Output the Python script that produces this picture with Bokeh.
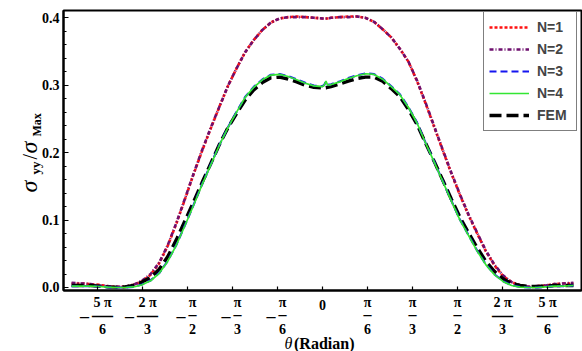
import math
from bokeh.plotting import figure
from bokeh.models import (FixedTicker, Label, Legend, LegendItem, Range1d, NumeralTickFormatter,
                          LinearAxis, BoxAnnotation)
from bokeh.embed import file_html
from bokeh.resources import INLINE

# ---------------- data ----------------
theta = [-2.92, -2.8, -2.7, -2.6, -2.5, -2.4, -2.3, -2.2, -2.1, -2.0,
         -1.9, -1.8, -1.7, -1.6, -1.5, -1.4, -1.3, -1.2, -1.1, -1.0,
         -0.9, -0.8, -0.7, -0.6, -0.5, -0.4, -0.3, -0.2, -0.1,
         0.0, 0.02, 0.04, 0.06,
         0.1, 0.2, 0.3, 0.4, 0.5, 0.6, 0.7, 0.8, 0.9, 1.0,
         1.1, 1.2, 1.3, 1.4, 1.5, 1.6, 1.7, 1.8, 1.9, 2.0,
         2.1, 2.2, 2.3, 2.4, 2.5, 2.6, 2.7, 2.8, 2.92]

n1 = [0.006, 0.006, 0.005, 0.004, 0.002, 0.001, 0.001, 0.004, 0.009, 0.019,
      0.036, 0.062, 0.095, 0.131, 0.168, 0.203, 0.236, 0.268, 0.299, 0.325,
      0.349, 0.367, 0.382, 0.393, 0.399, 0.401, 0.402, 0.401, 0.400,
      0.399, 0.399, 0.399, 0.399,
      0.400, 0.401, 0.402, 0.402, 0.400, 0.394, 0.383, 0.371, 0.354, 0.335,
      0.306, 0.273, 0.238, 0.203, 0.169, 0.137, 0.107, 0.080, 0.054, 0.033,
      0.017, 0.008, 0.003, 0.001, 0.002, 0.003, 0.005, 0.006, 0.006]

n2 = [0.007, 0.006, 0.005, 0.003, 0.002, 0.001, 0.001, 0.004, 0.010, 0.020,
      0.037, 0.063, 0.096, 0.132, 0.169, 0.204, 0.237, 0.268, 0.299, 0.325,
      0.349, 0.367, 0.382, 0.393, 0.399, 0.401, 0.401, 0.401, 0.400,
      0.399, 0.399, 0.399, 0.399,
      0.400, 0.401, 0.401, 0.402, 0.400, 0.394, 0.383, 0.371, 0.354, 0.335,
      0.307, 0.274, 0.239, 0.204, 0.170, 0.138, 0.108, 0.081, 0.055, 0.034,
      0.018, 0.008, 0.003, 0.001, 0.002, 0.003, 0.005, 0.006, 0.007]

n3 = [0.002, 0.002, 0.002, 0.0015, 0.0005, 0.0, 0.0, 0.001, 0.0045, 0.0105,
      0.0215, 0.0395, 0.0635, 0.0925, 0.1225, 0.1535, 0.1825, 0.2115, 0.2375, 0.2605,
      0.2825, 0.2975, 0.3085, 0.3155, 0.3165, 0.3135, 0.3085, 0.3035, 0.2995,
      0.2985, 0.3005, 0.3055, 0.3005,
      0.3015, 0.3055, 0.3105, 0.3145, 0.3175, 0.3165, 0.3095, 0.2985, 0.2865, 0.2675,
      0.2445, 0.2145, 0.1865, 0.1575, 0.1285, 0.1005, 0.0775, 0.0545, 0.0345, 0.0195,
      0.0095, 0.0035, 0.0008, 0.0, 0.0, 0.001, 0.002, 0.002, 0.003]

n4 = [0.002, 0.002, 0.002, 0.0015, 0.0005, 0.0, 0.0, 0.0008, 0.004, 0.010,
      0.021, 0.039, 0.063, 0.092, 0.122, 0.153, 0.182, 0.211, 0.237, 0.260,
      0.282, 0.297, 0.308, 0.315, 0.316, 0.313, 0.308, 0.303, 0.299,
      0.298, 0.300, 0.306, 0.300,
      0.301, 0.305, 0.310, 0.314, 0.317, 0.316, 0.309, 0.298, 0.286, 0.267,
      0.244, 0.214, 0.186, 0.157, 0.128, 0.100, 0.077, 0.054, 0.034, 0.019,
      0.009, 0.003, 0.0005, 0.0, 0.0, 0.001, 0.002, 0.002, 0.003]

fem = [0.003, 0.003, 0.003, 0.002, 0.001, 0.0005, 0.001, 0.003, 0.008, 0.015,
       0.027, 0.046, 0.071, 0.099, 0.127, 0.156, 0.184, 0.212, 0.237, 0.258,
       0.278, 0.293, 0.304, 0.311, 0.312, 0.309, 0.305, 0.300, 0.297,
       0.296, 0.296, 0.296, 0.297,
       0.298, 0.302, 0.306, 0.310, 0.312, 0.312, 0.306, 0.295, 0.283, 0.264,
       0.242, 0.214, 0.187, 0.159, 0.131, 0.104, 0.081, 0.059, 0.039, 0.024,
       0.013, 0.006, 0.003, 0.0015, 0.0015, 0.002, 0.003, 0.003, 0.003]

series_names = ["N=1", "N=2", "N=3", "N=4", "FEM"]

tick_k = [-5, -4, -3, -2, -1, 0, 1, 2, 3, 4, 5]          # multiples of pi/6
tick_num = ["5 π", "2 π", "π", "π", "π", "0", "π", "π", "π", "2 π", "5 π"]
tick_den = ["6", "3", "2", "3", "6", "", "6", "3", "2", "3", "6"]

y_ticks = [0.0, 0.1, 0.2, 0.3, 0.4]
y_minor = [0.02 * i for i in range(21)]

# ---------------- geometry ----------------
W, H = 582, 351
XR = (-3.0137, 3.0137)          # plotted theta range
YR = (-0.00445, 0.41083)        # plotted value range
FL, FR, FT, FB = 63, 581, 10, 290   # plot box in pixels
sx = (FR - FL) / (XR[1] - XR[0])
sy = (FB - FT) / (YR[1] - YR[0])
full_x = (XR[0] - FL / sx, XR[1] + (W - FR) / sx)
full_y = (YR[0] - (H - FB) / sy, YR[1] + FT / sy)

p = figure(width=W, height=H, x_range=Range1d(*full_x), y_range=Range1d(*full_y),
           output_backend="svg", toolbar_location=None,
           x_axis_location=None, y_axis_location=None,
           min_border_left=0, min_border_right=0, min_border_top=0, min_border_bottom=0)
p.grid.visible = False
p.background_fill_color = "white"
p.border_fill_color = "white"
p.outline_line_color = None

SERIF = "Liberation Serif"

# y axis at the left edge of the plot box
ya = LinearAxis(fixed_location=XR[0], bounds=YR)
ya.ticker = FixedTicker(ticks=y_ticks, minor_ticks=y_minor)
ya.formatter = NumeralTickFormatter(format="0.0")
ya.major_label_text_font = SERIF
ya.major_label_text_font_style = "bold"
ya.major_label_text_font_size = "14px"
ya.major_label_text_color = "black"
ya.major_label_standoff = 4
ya.major_tick_in = 5
ya.major_tick_out = 0
ya.minor_tick_in = 3
ya.minor_tick_out = 0
ya.axis_line_width = 2
ya.major_tick_line_width = 1.2
ya.minor_tick_line_width = 1
p.add_layout(ya, "left")

# x axis at the bottom edge of the plot box (labels drawn as fractions below)
xticks = [k * math.pi / 6 for k in tick_k]
xa = LinearAxis(fixed_location=YR[0], bounds=XR)
xa.ticker = FixedTicker(ticks=xticks, minor_ticks=[])
xa.major_label_overrides = {t: "" for t in xticks}
xa.major_label_standoff = 0
xa.major_tick_in = 4
xa.major_tick_out = 0
xa.axis_line_width = 2
xa.major_tick_line_width = 1.2
p.add_layout(xa, "below")

# frame box
p.add_layout(BoxAnnotation(left=XR[0], right=XR[1], bottom=YR[0], top=YR[1],
                           fill_color=None, fill_alpha=0, line_color="black", line_alpha=1.0,
                           line_width=2, level="overlay"))

# ---------------- curves ----------------
r1 = p.line(theta, n1, line_color="#FF1010", line_width=2.6, line_dash="3 2")
r2 = p.line(theta, n2, line_color="#6E0F6E", line_width=2.6, line_dash="4 2 1 2")
r5 = p.line(theta, fem, line_color="black", line_width=3.4, line_dash="12 5")
r3 = p.line(theta, n3, line_color="#1515F0", line_width=2.2, line_dash="7 4")
r4 = p.line(theta, n4, line_color="#33E633", line_width=1.7)

legend = Legend(items=[LegendItem(label=series_names[0], renderers=[r1]),
                       LegendItem(label=series_names[1], renderers=[r2]),
                       LegendItem(label=series_names[2], renderers=[r3]),
                       LegendItem(label=series_names[3], renderers=[r4]),
                       LegendItem(label=series_names[4], renderers=[r5])],
                location=(483, 220))
legend.label_text_font = "Liberation Sans"
legend.label_text_font_style = "bold"
legend.label_text_font_size = "14px"
legend.glyph_width = 40
legend.glyph_height = 20
legend.label_height = 20
legend.label_width = 34
legend.spacing = 2
legend.padding = 5
legend.margin = 0
legend.label_standoff = 8
legend.border_line_color = "black"
legend.border_line_width = 1.5
legend.background_fill_alpha = 1.0
p.add_layout(legend)

# ---------------- x tick labels as fractions ----------------
y0 = YR[0]
for k, num, den in zip(tick_k, tick_num, tick_den):
    xv = k * math.pi / 6
    if den == "":
        p.add_layout(Label(x=xv, y=y0, text=num, y_offset=-14, text_align="center",
                           text_baseline="alphabetic", text_font=SERIF, text_font_style="bold",
                           text_font_size="14px", text_color="black"))
        continue
    off = 5 if k < 0 else 0
    wide = len(num) > 1
    barw = 21 if wide else 8
    p.add_layout(Label(x=xv, y=y0, text=num, x_offset=off, y_offset=-12, text_align="center",
                       text_baseline="alphabetic", text_font=SERIF, text_font_style="bold",
                       text_font_size="14px", text_color="black"))
    p.add_layout(Label(x=xv, y=y0, text="—" if wide else "–", x_offset=off, y_offset=-24,
                       text_align="center", text_baseline="alphabetic", text_font=SERIF,
                       text_font_style="bold", text_font_size="21px" if wide else "16px",
                       text_color="black"))
    p.add_layout(Label(x=xv, y=y0, text=den, x_offset=off, y_offset=-38, text_align="center",
                       text_baseline="alphabetic", text_font=SERIF, text_font_style="bold",
                       text_font_size="14px", text_color="black"))
    if k < 0:
        p.add_layout(Label(x=xv, y=y0, text="–", x_offset=off - barw / 2 - 7.5, y_offset=-25,
                           text_align="center", text_baseline="alphabetic", text_font=SERIF,
                           text_font_style="bold", text_font_size="18px", text_color="black"))

# x axis title  θ(Radian)
p.add_layout(Label(x=0, y=y0, text="θ", x_offset=-38, y_offset=-53, text_align="left",
                   text_baseline="alphabetic", text_font=SERIF, text_font_style="italic",
                   text_font_size="16px", text_color="black"))
p.add_layout(Label(x=0, y=y0, text="(Radian)", x_offset=-28.5, y_offset=-53, text_align="left",
                   text_baseline="alphabetic", text_font=SERIF, text_font_style="bold",
                   text_font_size="16px", text_color="black"))

# y axis title  σ_yy / σ_Max (rotated)
x0 = XR[0]
ypieces = [("σ", "italic", "24px", -35, 98),
           ("yy", "bold", "13px", -28.5, 116),
           ("/", "normal", "20px", -34, 131),
           ("σ", "italic", "24px", -35, 137),
           ("Max", "bold", "12px", -26.5, 154)]
for txt, style, size, xo, yo in ypieces:
    p.add_layout(Label(x=x0, y=y0, text=txt, x_offset=xo, y_offset=yo, angle=math.pi / 2,
                       text_align="left", text_baseline="alphabetic", text_font=SERIF,
                       text_font_style=style, text_font_size=size, text_color="black"))

open("out.html", "w").write(file_html(p, INLINE))
